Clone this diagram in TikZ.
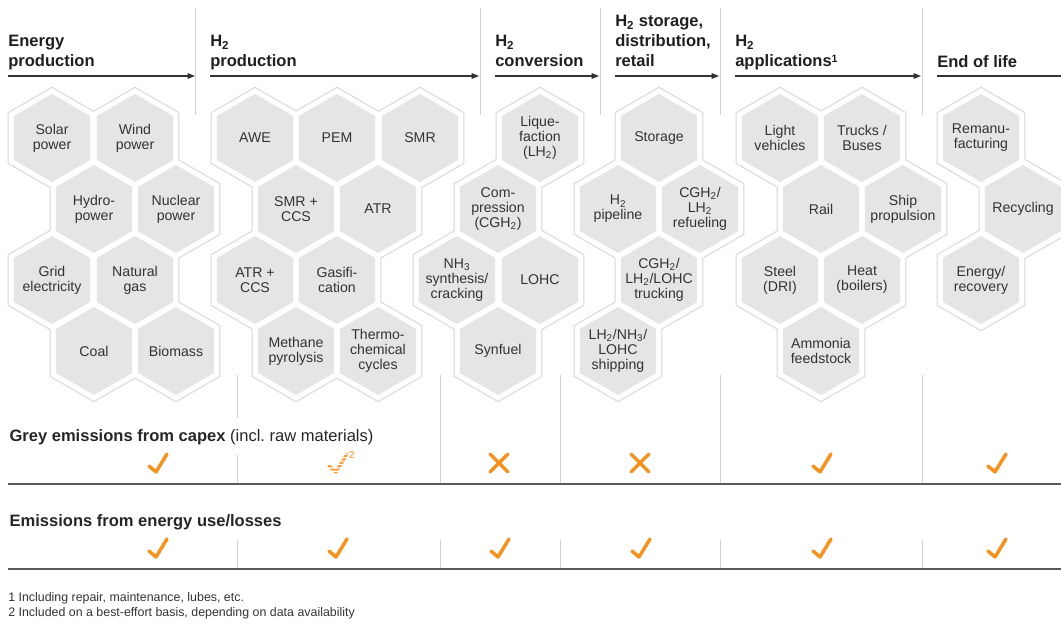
\documentclass[tikz,border=0pt]{standalone}
\usepackage{fontspec}
\setmainfont{Liberation Sans}
\usetikzlibrary{shapes.geometric,arrows.meta,backgrounds}

\definecolor{cellgrey}{RGB}{229,229,229}
\definecolor{rimgrey}{RGB}{214,214,214}
\definecolor{inkgrey}{RGB}{51,51,51}
\definecolor{rulegrey}{RGB}{90,90,90}
\definecolor{divgrey}{RGB}{208,208,208}
\definecolor{tickorange}{RGB}{246,146,30}

\newcommand{\hexcells}{solar,wind,hydro,nuclear,grid,gas,coal,biomass,awe,pem,smr,smrccs,atr,atrccs,gasif,methane,thermo,liquef,compr,nh3,lohc,synfuel,storage,pipeline,refuel,trucking,shipping,light,trucks,rail,ship,steel,heat,ammonia,reman,recyc,energyrec}

\tikzset{
  hexbase/.style={regular polygon, regular polygon sides=6, shape border rotate=30, inner sep=0pt},
  cell/.style={hexbase, fill=cellgrey, minimum size=66pt, label={[celltext]center:#1}},
  celltext/.style={align=center, inner sep=0pt, text=inkgrey, font=\fontsize{10.6}{11.2}\selectfont},
  rimline/.style={hexbase, draw=rimgrey, line width=1.6pt, minimum size=75pt},
  rimfill/.style={hexbase, fill=white, minimum size=75pt},
  header/.style={anchor=north west, inner sep=0pt, align=left, text=black!88, font=\bfseries\fontsize{12.4}{15}\selectfont},
  section/.style={anchor=base west, inner xsep=1pt, inner ysep=0pt, text=black!85, font=\fontsize{12.4}{15}\selectfont},
  footnote/.style={anchor=base west, inner sep=0pt, text=black!80, font=\fontsize{9.3}{11}\selectfont},
  flow/.style={draw=inkgrey, line width=0.8pt},
  divider/.style={draw=divgrey, line width=0.75pt},
  rowrule/.style={draw=rulegrey, line width=1.1pt},
  tickline/.style={draw=tickorange, line width=2.6pt, line cap=round, line join=round},
  okmark/.pic={\draw[tickline] (-8,3) -- (-1,9) -- (10,-9);},
  nomark/.pic={\draw[tickline] (-9,-9) -- (9,9) (-9,9) -- (9,-9);},
  partmark/.pic={
    \begin{scope}
      \clip \foreach \k in {0,...,6} {(-12,-11.5+3.4*\k) rectangle (13,-9.3+3.4*\k)};
      \draw[tickline, draw=tickorange!85] (-8,3) -- (-1,9) -- (10,-9);
    \end{scope}}
}

\begin{document}
\begin{tikzpicture}[x=0.75pt, y=-0.75pt]
  \useasboundingbox (0,0) rectangle (1061,629);

  % column headers
  \node[header] (hdr-energy) at (8,35) {Energy\\production};
  \node[header] (hdr-prod) at (210,35) {H\textsubscript{2}\\production};
  \node[header] (hdr-conv) at (495,35) {H\textsubscript{2}\\conversion};
  \node[header] (hdr-store) at (615,15) {H\textsubscript{2} storage,\\distribution,\\retail};
  \node[header] (hdr-appl) at (735,35) {H\textsubscript{2}\\applications{\fontsize{8}{8}\selectfont\raisebox{0.7ex}{1}}};
  \node[header] (hdr-eol) at (937,55) {End of life};

  \coordinate (s1) at (8,76);   \coordinate (t1) at (195,76);
  \coordinate (s2) at (210,76); \coordinate (t2) at (479,76);
  \coordinate (s3) at (495,76); \coordinate (t3) at (599,76);
  \coordinate (s4) at (615,76); \coordinate (t4) at (719,76);
  \coordinate (s5) at (735,76); \coordinate (t5) at (921,76);
  \coordinate (s6) at (937,76); \coordinate (t6) at (1061,76);
  \foreach \source/\dest in {s1/t1, s2/t2, s3/t3, s4/t4, s5/t5}
    \draw[flow, -{Triangle[length=5.5pt,width=4.2pt]}] (\source) -- (\dest);
  \draw[flow] (s6) -- (t6);

  \foreach \x in {195.5,480,600,720.5,922}
    \draw[divider] (\x,8) -- (\x,115);

  % energy production
  \node[cell={Solar\\power}] (solar) at (52,138) {};
  \node[cell={Wind\\power}] (wind) at (135,138) {};
  \node[cell={Hydro-\\power}] (hydro) at (94,209) {};
  \node[cell={Nuclear\\power}] (nuclear) at (176,209) {};
  \node[cell={Grid\\electricity}] (grid) at (52,280) {};
  \node[cell={Natural\\gas}] (gas) at (135,280) {};
  \node[cell={Coal}] (coal) at (94,351) {};
  \node[cell={Biomass}] (biomass) at (176,351) {};

  % H2 production
  \node[cell={AWE}] (awe) at (255,138) {};
  \node[cell={PEM}] (pem) at (337,138) {};
  \node[cell={SMR}] (smr) at (420,138) {};
  \node[cell={SMR +\\CCS}] (smrccs) at (296,209) {};
  \node[cell={ATR}] (atr) at (378,209) {};
  \node[cell={ATR +\\CCS}] (atrccs) at (255,280) {};
  \node[cell={Gasifi-\\cation}] (gasif) at (337,280) {};
  \node[cell={Methane\\pyrolysis}] (methane) at (296,351) {};
  \node[cell={Thermo-\\chemical\\cycles}] (thermo) at (378,351) {};

  % H2 conversion
  \node[cell={Lique-\\faction\\(LH\textsubscript{2})}] (liquef) at (540,138) {};
  \node[cell={Com-\\pression\\(CGH\textsubscript{2})}] (compr) at (498,209) {};
  \node[cell={NH\textsubscript{3}\\synthesis/\\cracking}] (nh3) at (457,280) {};
  \node[cell={LOHC}] (lohc) at (540,280) {};
  \node[cell={Synfuel}] (synfuel) at (498,351) {};

  % H2 storage, distribution, retail
  \node[cell={Storage}] (storage) at (659,138) {};
  \node[cell={H\textsubscript{2}\\pipeline}] (pipeline) at (618,209) {};
  \node[cell={CGH\textsubscript{2}/\\LH\textsubscript{2}\\refueling}] (refuel) at (700,209) {};
  \node[cell={CGH\textsubscript{2}/\\LH\textsubscript{2}/LOHC\\trucking}] (trucking) at (659,280) {};
  \node[cell={LH\textsubscript{2}/NH\textsubscript{3}/\\LOHC\\shipping}] (shipping) at (618,351) {};

  % H2 applications
  \node[cell={Light\\vehicles}] (light) at (780,138) {};
  \node[cell={Trucks /\\Buses}] (trucks) at (862,138) {};
  \node[cell={Rail}] (rail) at (821,209) {};
  \node[cell={Ship\\propulsion}] (ship) at (903,209) {};
  \node[cell={Steel\\(DRI)}] (steel) at (780,280) {};
  \node[cell={Heat\\(boilers)}] (heat) at (862,280) {};
  \node[cell={Ammonia\\feedstock}] (ammonia) at (821,351) {};

  % end of life
  \node[cell={Remanu-\\facturing}] (reman) at (981,138) {};
  \node[cell={Recycling}] (recyc) at (1023,209) {};
  \node[cell={Energy/\\recovery}] (energyrec) at (981,280) {};

  % white rims round the clusters
  \begin{scope}[on background layer]
    \foreach \c in \hexcells
      \node[rimline] (rim-\c) at (\c) {};
    \foreach \c in \hexcells
      \node[rimfill] (pad-\c) at (\c) {};
  \end{scope}

  % emission rows
  \foreach \x in {237,440,560,720,922} {
    \draw[divider] (\x,375) -- (\x,484);
    \draw[divider] (\x,540) -- (\x,569);
  }
  \draw[rowrule] (8,484) -- (1061,484);
  \draw[rowrule] (8,569) -- (1061,569);

  \node[section, fill=white, inner ysep=8pt] (capex) at (8,441) {\textbf{Grey emissions from capex} (incl.\ raw materials)};
  \node[section] (energyuse) at (8,526) {\textbf{Emissions from energy use/losses}};

  \foreach \x in {157,821,996}
    \pic at (\x,463) {okmark};
  \foreach \x in {499,640}
    \pic at (\x,463) {nomark};
  \pic at (337,463) {partmark};
  \node[text=tickorange, inner sep=0pt, font=\fontsize{7.5}{8}\selectfont] (note2) at (352,455) {2};
  \foreach \x in {157,337,499,640,821,996}
    \pic at (\x,548) {okmark};

  \node[footnote] (fn1) at (8,601) {1 Including repair, maintenance, lubes, etc.};
  \node[footnote] (fn2) at (8,616) {2 Included on a best-effort basis, depending on data availability};
\end{tikzpicture}
\end{document}
